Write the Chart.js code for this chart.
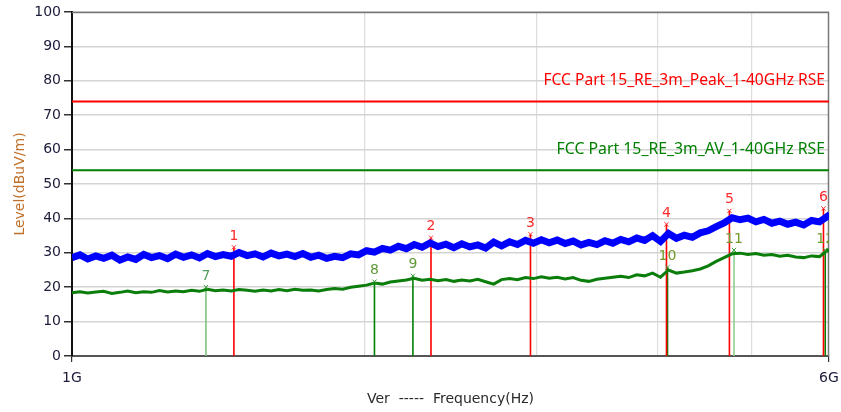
<!DOCTYPE html>
<html>
<head>
<meta charset="utf-8">
<script src="https://cdn.jsdelivr.net/npm/chart.js@4.4.1/dist/chart.umd.min.js"></script>
<style>
  html, body { margin: 0; padding: 0; background: #fff; }
  #wrap { width: 841px; height: 412px; }
</style>
</head>
<body>
<div id="wrap"><canvas id="scan"></canvas></div>
<script>
// 频率轴（GHz）
const freqGHz = [
    1.000, 1.019, 1.038, 1.058, 1.078, 1.099, 1.120, 1.141, 1.163, 1.185,
    1.207, 1.230, 1.254, 1.278, 1.302, 1.327, 1.352, 1.378, 1.404, 1.430,
    1.458, 1.485, 1.514, 1.542, 1.572, 1.602, 1.632, 1.663, 1.695, 1.727,
    1.760, 1.793, 1.827, 1.862, 1.898, 1.934, 1.970, 2.008, 2.046, 2.085,
    2.124, 2.165, 2.206, 2.248, 2.290, 2.334, 2.378, 2.423, 2.469, 2.516,
    2.564, 2.613, 2.662, 2.713, 2.764, 2.817, 2.870, 2.925, 2.980, 3.037,
    3.094, 3.153, 3.213, 3.274, 3.336, 3.399, 3.464, 3.530, 3.597, 3.665,
    3.735, 3.806, 3.878, 3.952, 4.027, 4.103, 4.181, 4.261, 4.342, 4.424,
    4.508, 4.594, 4.681, 4.770, 4.861, 4.953, 5.047, 5.143, 5.241, 5.340,
    5.442, 5.545, 5.651, 5.758, 5.867, 5.979, 6.000
];

// 峰值扫描（蓝）
const peakLevel = [
    28.6, 29.4, 28.2, 29.1, 28.4, 29.3, 27.9, 28.8, 28.1, 29.5,
    28.6, 29.2, 28.3, 29.6, 28.7, 29.4, 28.5, 29.8, 28.9, 29.5,
    29.0, 30.1, 29.2, 29.7, 28.8, 29.9, 29.1, 29.6, 28.9, 29.8,
    28.7, 29.3, 28.4, 29.0, 28.6, 29.7, 29.4, 30.6, 30.2, 31.3,
    30.8, 31.9, 31.2, 32.4, 31.6, 32.9, 31.8, 32.5, 31.5, 32.6,
    31.7, 32.3, 31.4, 33.1, 32.0, 33.2, 32.4, 33.6, 32.8, 33.8,
    32.9, 33.7, 32.7, 33.4, 32.3, 33.0, 32.4, 33.5, 32.8, 33.9,
    33.2, 34.3, 33.6, 35.0, 33.3, 35.6, 34.2, 35.1, 34.5, 35.8,
    36.4, 37.6, 38.7, 40.2, 39.6, 40.1, 39.0, 39.7, 38.6, 39.2,
    38.3, 38.9, 38.1, 39.4, 39.0, 40.6, 40.2
];

// 平均值扫描（绿）
const avgLevel = [
    18.4, 18.7, 18.3, 18.6, 18.8, 18.2, 18.5, 18.9, 18.4, 18.7,
    18.5, 19.0, 18.6, 18.9, 18.7, 19.1, 18.8, 19.4, 19.0, 19.2,
    18.9, 19.3, 19.1, 18.8, 19.2, 18.9, 19.3, 19.0, 19.4, 19.1,
    19.2, 18.9, 19.3, 19.6, 19.4, 20.0, 20.3, 20.6, 21.2, 20.9,
    21.5, 21.8, 22.1, 22.6, 22.0, 22.3, 21.9, 22.2, 21.7, 22.1,
    21.8, 22.3, 21.6, 20.9, 22.2, 22.5, 22.2, 22.8, 22.5, 23.0,
    22.6, 22.9, 22.4, 22.8, 22.0, 21.7, 22.3, 22.6, 22.9, 23.2,
    22.8, 23.6, 23.3, 24.1, 22.9, 25.0, 24.1, 24.4, 24.8, 25.3,
    26.2, 27.5, 28.6, 29.7, 29.9, 29.5, 29.8, 29.3, 29.5, 29.0,
    29.3, 28.8, 28.6, 29.1, 28.9, 30.8, 30.3
];

// 限值线
const limitNames = ['FCC Part 15_RE_3m_Peak_1-40GHz RSE', 'FCC Part 15_RE_3m_AV_1-40GHz RSE'];
const limitLevels = [74, 54];
const limitColors = ['#ff0000', '#008000'];

// 标记点
const markerNo    = [1, 2, 3, 4, 5, 6, 7, 8, 9, 10, 11, 12];
const markerGHz   = [1.467, 2.339, 2.960, 4.084, 4.740, 5.922, 1.373, 2.046, 2.241, 4.094, 4.792, 5.947];
const markerLevel = [31.6, 34.4, 35.4, 38.3, 42.2, 42.9, 20.0, 21.6, 23.3, 25.8, 30.8, 30.8];
const markerLine  = ['#ff0000', '#ff0000', '#ff0000', '#ff0000', '#ff0000', '#ff0000',
                     '#7cc47c', '#008000', '#008000', '#008000', '#8fd08f', '#008000'];
const markerText  = ['#ff2a2a', '#ff2a2a', '#ff2a2a', '#ff2a2a', '#ff2a2a', '#ff2a2a',
                     '#4f9f5f', '#5f9a3a', '#5f9a3a', '#6f9a2a', '#6f9a2a', '#6f9a2a'];

// 坐标轴刻度
const xTickGHz = [1, 2, 3, 4, 5, 6];
const xTickLabels = ['1G', '', '', '', '', '6G'];
const yTicks = [0, 10, 20, 30, 40, 50, 60, 70, 80, 90, 100];

const G = 1e9;

const datasets = [];

markerNo.forEach((n, i) => {
    datasets.push({
        label: 'M' + n,
        data: [{ x: markerGHz[i] * G, y: 0 }, { x: markerGHz[i] * G, y: markerLevel[i] }],
        borderColor: markerLine[i],
        borderWidth: 1.6,
        pointRadius: 0,
        order: 3
    });
});

datasets.push({
    label: 'Peak',
    data: freqGHz.map((f, i) => ({ x: f * G, y: peakLevel[i] })),
    borderColor: '#0000ff',
    borderWidth: 7,
    pointRadius: 0,
    borderJoinStyle: 'miter',
    order: 2
});

datasets.push({
    label: 'AV',
    data: freqGHz.map((f, i) => ({ x: f * G, y: avgLevel[i] })),
    borderColor: '#0a7d0a',
    borderWidth: 3,
    pointRadius: 0,
    order: 2
});

limitLevels.forEach((v, i) => {
    datasets.push({
        label: limitNames[i],
        data: [{ x: 1 * G, y: v }, { x: 6 * G, y: v }],
        borderColor: limitColors[i],
        borderWidth: 2,
        pointRadius: 0,
        order: 2
    });
});

// 标记 x 符号
datasets.push({
    label: 'marks',
    data: markerNo.map((n, i) => ({ x: markerGHz[i] * G, y: markerLevel[i] })),
    showLine: false,
    pointStyle: 'crossRot',
    pointRadius: 3,
    pointBorderWidth: 1,
    pointBorderColor: markerLine.map(c => c === '#ff0000' ? '#ff3030' : '#3a9a3a'),
    order: 1
});

// 边框 + 文字标注
const annotate = {
    id: 'annotate',
    beforeDatasetsDraw(chart) {
        const { ctx, chartArea: a } = chart;
        ctx.save();
        ctx.strokeStyle = '#777';
        ctx.lineWidth = 1.5;
        ctx.beginPath();
        ctx.moveTo(a.left, a.top + 0.5);
        ctx.lineTo(a.right - 0.5, a.top + 0.5);
        ctx.lineTo(a.right - 0.5, a.bottom);
        ctx.stroke();
        ctx.restore();
    },
    afterDatasetsDraw(chart) {
        const { ctx, chartArea: a, scales } = chart;
        ctx.save();
        ctx.beginPath();
        ctx.rect(a.left, a.top, a.right - a.left, a.bottom - a.top);
        ctx.clip();

        ctx.textAlign = 'right';
        ctx.textBaseline = 'middle';
        limitLevels.forEach((v, i) => {
            ctx.font = (i === 0 ? '15.6px' : '15.8px') + ' "Noto Sans", sans-serif';
            ctx.fillStyle = limitColors[i];
            ctx.fillText(limitNames[i], a.right - 4, scales.y.getPixelForValue(v) - 21);
        });

        ctx.font = '14px "DejaVu Sans", sans-serif';
        ctx.textAlign = 'center';
        markerNo.forEach((n, i) => {
            const px = scales.x.getPixelForValue(markerGHz[i] * G);
            const py = scales.y.getPixelForValue(markerLevel[i]);
            ctx.fillStyle = markerText[i];
            ctx.fillText(String(n), px, py - 11);
        });
        ctx.restore();
    }
};

new Chart(document.getElementById('scan'), {
    type: 'line',
    data: { datasets: datasets },
    options: {
        responsive: true,
        maintainAspectRatio: false,
        animation: false,
        layout: { padding: { top: 12, right: 12, left: 0, bottom: 0 } },
        plugins: {
            legend: { display: false },
            tooltip: { enabled: false }
        },
        scales: {
            x: {
                type: 'logarithmic',
                min: 1 * G,
                max: 6 * G,
                afterBuildTicks: function(scale) {
                    scale.ticks = xTickGHz.map(v => ({ value: v * G }));
                },
                afterFit: function(scale) {
                    scale.height = 56;
                    // 标签不挤占绘图区
                    scale.paddingLeft = 0;
                    scale.paddingRight = 0;
                },
                ticks: {
                    autoSkip: false,
                    maxRotation: 0,
                    padding: 8,
                    color: '#1c1c3a',
                    font: { family: 'DejaVu Sans', size: 14 },
                    callback: function(value, index) {
                        return xTickLabels[index];
                    }
                },
                grid: {
                    color: function(c) {
                        const v = c.tick && c.tick.value;
                        return (v === 1 * G || v === 6 * G) ? 'rgba(0,0,0,0)' : '#dddddd';
                    },
                    tickColor: function(c) {
                        const v = c.tick && c.tick.value;
                        return (v === 1 * G || v === 6 * G) ? '#333' : 'rgba(0,0,0,0)';
                    },
                    tickLength: 6,
                    lineWidth: 1.2
                },
                border: { color: '#555', width: 2 },
                title: {
                    display: true,
                    text: 'Ver  -----  Frequency(Hz)',
                    color: '#2a2a2a',
                    font: { family: 'DejaVu Sans', size: 14 },
                    padding: { top: 0, bottom: 4 }
                }
            },
            y: {
                min: 0,
                max: 100,
                afterBuildTicks: function(scale) {
                    scale.ticks = yTicks.map(v => ({ value: v }));
                },
                afterFit: function(scale) {
                    scale.width = 72;
                },
                ticks: {
                    padding: 3,
                    color: '#1c1c3a',
                    font: { family: 'DejaVu Sans', size: 14 }
                },
                grid: {
                    color: '#d4d4d4',
                    tickColor: '#333',
                    tickLength: 8,
                    lineWidth: 1.5
                },
                border: { color: '#111', width: 2 },
                title: {
                    display: true,
                    text: 'Level(dBuV/m)',
                    color: '#c0702a',
                    font: { family: 'DejaVu Sans', size: 14 },
                    padding: { top: 12, bottom: 0 }
                }
            }
        }
    },
    plugins: [annotate]
});
</script>
</body>
</html>
